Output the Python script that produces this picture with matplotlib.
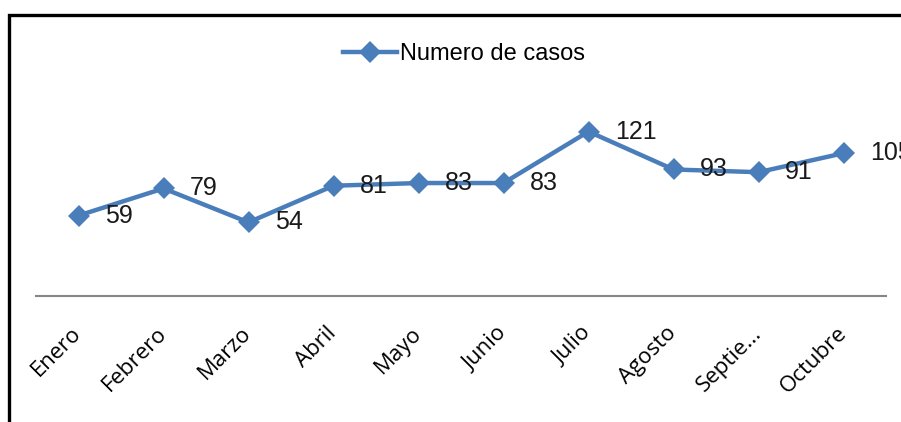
import matplotlib
matplotlib.use("Agg")
import matplotlib.pyplot as plt
from matplotlib import font_manager as fm
from matplotlib.patches import Rectangle

MONTHS = ["Enero", "Febrero", "Marzo", "Abril", "Mayo", "Junio",
          "Julio", "Agosto", "Septie...", "Octubre"]
CASES = [59, 79, 54, 81, 83, 83, 121, 93, 91, 105]
SERIES_LABEL = "Numero de casos"

LINE_COLOR = "#4A7EBB"
TICK_FONT = ["Open Sans", "DejaVu Sans"]

# narrow font for the numbers if present, like the original chart
installed = {f.name for f in fm.fontManager.ttflist}
if "Liberation Sans Narrow" in installed:
    LABEL_FONT = ["Liberation Sans Narrow", "DejaVu Sans"]
    LABEL_SIZE = 20
else:
    LABEL_FONT = ["Liberation Sans", "DejaVu Sans"]
    LABEL_SIZE = 18


def main():
    fig = plt.figure(figsize=(9.01, 4.22), dpi=100)
    ax = fig.add_axes([36 / 901, 126.5 / 422, 850 / 901, 189.7 / 422])

    x = list(range(len(MONTHS)))
    line, = ax.plot(x, CASES, color=LINE_COLOR, linewidth=3.2,
                    marker="D", markersize=11, markeredgewidth=0,
                    label=SERIES_LABEL, clip_on=False, zorder=3)

    for xi, v in zip(x, CASES):
        ax.annotate(str(v), (xi, v), xytext=(19, 0), textcoords="offset points",
                    ha="left", va="center", fontsize=LABEL_SIZE, family=LABEL_FONT,
                    color="#1a1a1a", annotation_clip=False)

    ax.set_xlim(-0.5, len(MONTHS) - 0.5)
    ax.set_ylim(0, 140)
    ax.set_xticks(x)
    ax.set_xticklabels(MONTHS, rotation=45, ha="right", va="center",
                       rotation_mode="anchor", fontsize=16, family=TICK_FONT)
    ax.tick_params(axis="x", length=0, pad=25)
    ax.set_yticks([])
    for side in ("top", "right", "left"):
        ax.spines[side].set_visible(False)
    ax.spines["bottom"].set_color("#868686")
    ax.spines["bottom"].set_linewidth(1.5)

    fig.legend(handles=[line], labels=[SERIES_LABEL], loc="center",
               bbox_to_anchor=(464 / 901, 1 - 54 / 422), frameon=False,
               prop={"family": LABEL_FONT, "size": LABEL_SIZE - 1},
               handlelength=2.3, handletextpad=0.1)

    # outer chart border (only left and top edges visible)
    fig.patches.append(Rectangle((9 / 901, -0.2), 1.2, 0.2 + (422 - 15) / 422,
                                 transform=fig.transFigure, fill=False,
                                 edgecolor="black", linewidth=2.4))

    fig.savefig("out.png", dpi=100)


if __name__ == "__main__":
    main()
